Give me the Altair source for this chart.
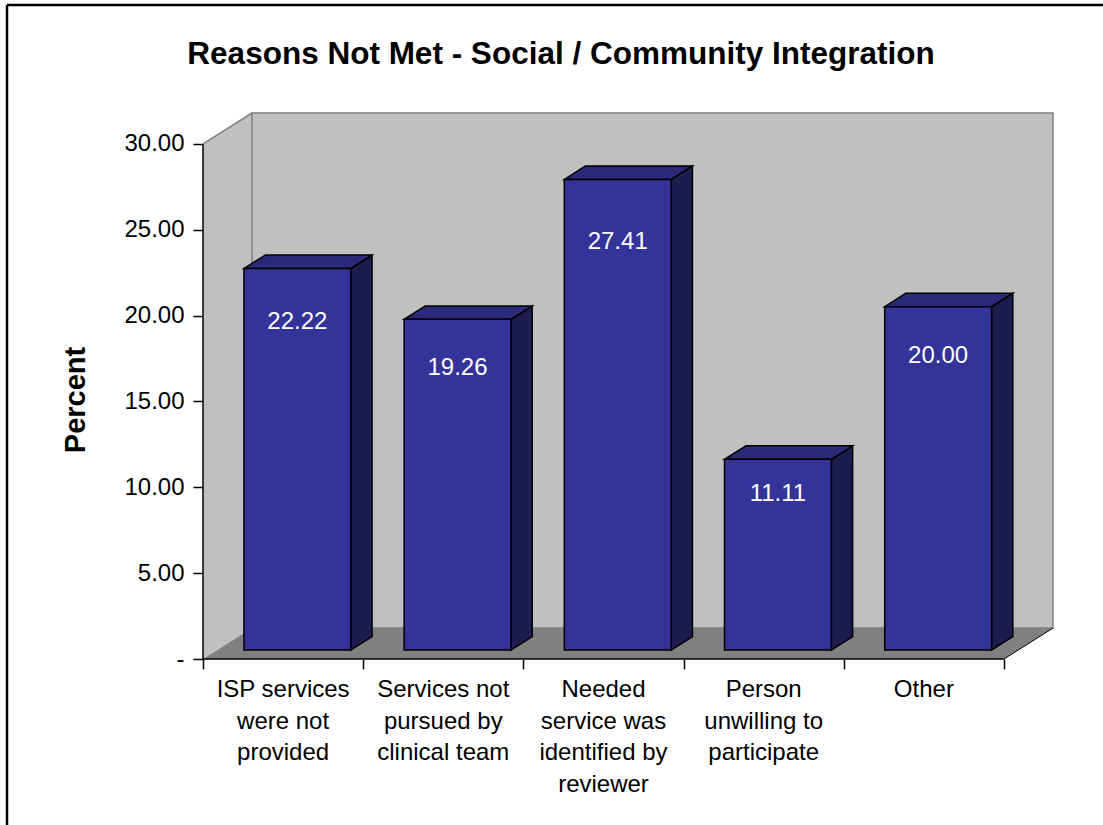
import altair as alt
import pandas as pd

# ---------------- data ----------------
categories = [
    "ISP services\nwere not\nprovided",
    "Services not\npursued by\nclinical team",
    "Needed\nservice was\nidentified by\nreviewer",
    "Person\nunwilling to\nparticipate",
    "Other",
]
values = [22.22, 19.26, 27.41, 11.11, 20.00]
y_ticks = [0, 5, 10, 15, 20, 25, 30]
title_text = "Reasons Not Met - Social / Community Integration"
y_title = "Percent"

# ---------------- geometry (style) ----------------
N = len(values)
YMAX = 30
DX = 0.306   # depth of the 3-D box in category units
DY = 1.80    # depth of the 3-D box in value units
GAP = 1 / 6  # gap on each side of a bar inside its category
F0, F1 = 0.29, 0.725  # front / back depth fraction of the bars
W, H = 850, 546
FONT = "Liberation Sans"

xs = alt.Scale(domain=[0, N + DX], nice=False, zero=False)
ys = alt.Scale(domain=[0, YMAX + DY], nice=False, zero=False)

XA = alt.Axis(values=list(range(N + 1)), labels=False, tickSize=10, tickColor="black",
              tickWidth=1.5, domain=False, grid=False, title=None)
YA = alt.Axis(values=y_ticks, tickSize=10, tickColor="black", tickWidth=1.5, domain=False,
              grid=False, title=None,
              labelExpr="datum.value == 0 ? '-' : format(datum.value, '.2f')",
              labelFont=FONT, labelFontSize=24, labelColor="black", labelPadding=9)

FRONT = "#333399"
TOP = "#2a2a78"
SIDE = "#1c1c4e"
WALL = "#c0c0c0"
FLOOR = "#808080"

# ---------------- derived tables ----------------
front_rows, top_rows, side_rows = [], [], []
for i, (c, v) in enumerate(zip(categories, values)):
    xl, xr = i + GAP, i + 1 - GAP
    front_rows.append(dict(cat=c, x=xl + F0 * DX, x2=xr + F0 * DX, y=F0 * DY, y2=v + F0 * DY,
                           xc=i + 0.5 + F0 * DX, ly=0.9 * v - 0.9 + F0 * DY,
                           lab=f"{v:.2f}"))
    for f in (F0, F1):
        top_rows.append(dict(cat=c, y=v + f * DY, x=xl + f * DX, x2=xr + f * DX))
        side_rows.append(dict(cat=c, x=xr + f * DX, y=f * DY, y2=v + f * DY))
front = pd.DataFrame(front_rows)
top = pd.DataFrame(top_rows)
side = pd.DataFrame(side_rows)
cat_df = pd.DataFrame({"cat": categories, "x": [i + 0.5 for i in range(N)], "y": [0] * N})

left_wall = pd.DataFrame({"x": [0, DX], "y": [0, DY], "y2": [YMAX, YMAX + DY]})
back_wall = pd.DataFrame({"x": [DX], "x2": [N + DX], "y": [DY], "y2": [YMAX + DY]})
floor = pd.DataFrame({"y": [0, DY], "x": [0, DX], "x2": [N, N + DX]})
wall_edge = pd.DataFrame({"x": [0, DX], "y": [YMAX, YMAX + DY]})
floor_edge = pd.DataFrame({"x": [N, N + DX], "y": [0, DY]})
axis_df = pd.DataFrame({"x": [0], "x2": [N], "y": [0], "y2": [YMAX]})


def X(f="x"):
    return alt.X(f"{f}:Q", scale=xs, axis=XA, stack=None)


def Y(f="y"):
    return alt.Y(f"{f}:Q", scale=ys, axis=YA, stack=None)


# ---------------- layers ----------------
lw = alt.Chart(left_wall).mark_area(orient="vertical", color=WALL).encode(
    x=X(), y=Y(), y2="y2:Q")
bw = alt.Chart(back_wall).mark_rect(fill=WALL, stroke="#808080", strokeWidth=1.5).encode(
    x=X(), x2="x2:Q", y=Y(), y2="y2:Q")
fl = alt.Chart(floor).mark_area(orient="horizontal", color=FLOOR).encode(
    y=Y(), x=X(), x2="x2:Q")
we = alt.Chart(wall_edge).mark_line(color="#808080", strokeWidth=1.5).encode(x=X(), y=Y())
fe = alt.Chart(floor_edge).mark_line(color="black", strokeWidth=1).encode(x=X(), y=Y())

yaxis = alt.Chart(axis_df).mark_rule(color="black", strokeWidth=1.5).encode(
    x=X(), y=Y(), y2="y2:Q")
xaxis = alt.Chart(axis_df).mark_rule(color="black", strokeWidth=1.5).encode(
    x=X(), x2="x2:Q", y=Y())

sd = alt.Chart(side).mark_area(orient="vertical", color=SIDE, stroke="black", strokeWidth=1.5).encode(
    x=X(), y=Y(), y2="y2:Q", detail="cat:N")
tp = alt.Chart(top).mark_area(orient="horizontal", color=TOP, stroke="black", strokeWidth=1.5).encode(
    y=Y(), x=X(), x2="x2:Q", detail="cat:N")
fr = alt.Chart(front).mark_rect(fill=FRONT, stroke="black", strokeWidth=1.5).encode(
    x=X(), x2="x2:Q", y=Y(), y2="y2:Q")
lab = alt.Chart(front).mark_text(color="white", font=FONT, fontSize=24, baseline="middle").encode(
    x=X("xc"), y=Y("ly"), text="lab:N")

cats = alt.Chart(cat_df).mark_text(font=FONT, fontSize=24, color="black", baseline="alphabetic",
                                   align="center", dy=38, lineBreak="\n", lineHeight=31.5).encode(
    x=X(), y=Y(), text="cat:N")

ttl = alt.Chart(pd.DataFrame({"t": [title_text]})).mark_text(
    font=FONT, fontSize=31.5, fontWeight="bold", color="black", baseline="middle", align="center").encode(
    text="t:N", x=alt.value(358), y=alt.value(-58))
ytl = alt.Chart(pd.DataFrame({"t": [y_title]})).mark_text(
    font=FONT, fontSize=29, fontWeight="bold", color="black", baseline="middle", align="center",
    angle=270).encode(text="t:N", x=alt.value(-127), y=alt.value(287))

border_top = alt.Chart(pd.DataFrame({"a": [0]})).mark_rule(color="black", strokeWidth=2.5).encode(
    x=alt.value(-196), x2=alt.value(920), y=alt.value(-108))
border_left = alt.Chart(pd.DataFrame({"a": [0]})).mark_rule(color="black", strokeWidth=2.5).encode(
    x=alt.value(-196), y=alt.value(-108), y2=alt.value(730))

chart = alt.layer(
    lw, bw, fl, we, fe, yaxis, xaxis, sd, tp, fr, lab, cats, ttl, ytl, border_top, border_left
).properties(
    width=W, height=H,
    autosize=alt.AutoSizeParams(type="none"),
    padding={"left": 203, "top": 113, "right": 50, "bottom": 166},
    background="white",
).configure_view(stroke=None)

chart.save("out.html", embed_options={"renderer": "svg", "actions": False})
